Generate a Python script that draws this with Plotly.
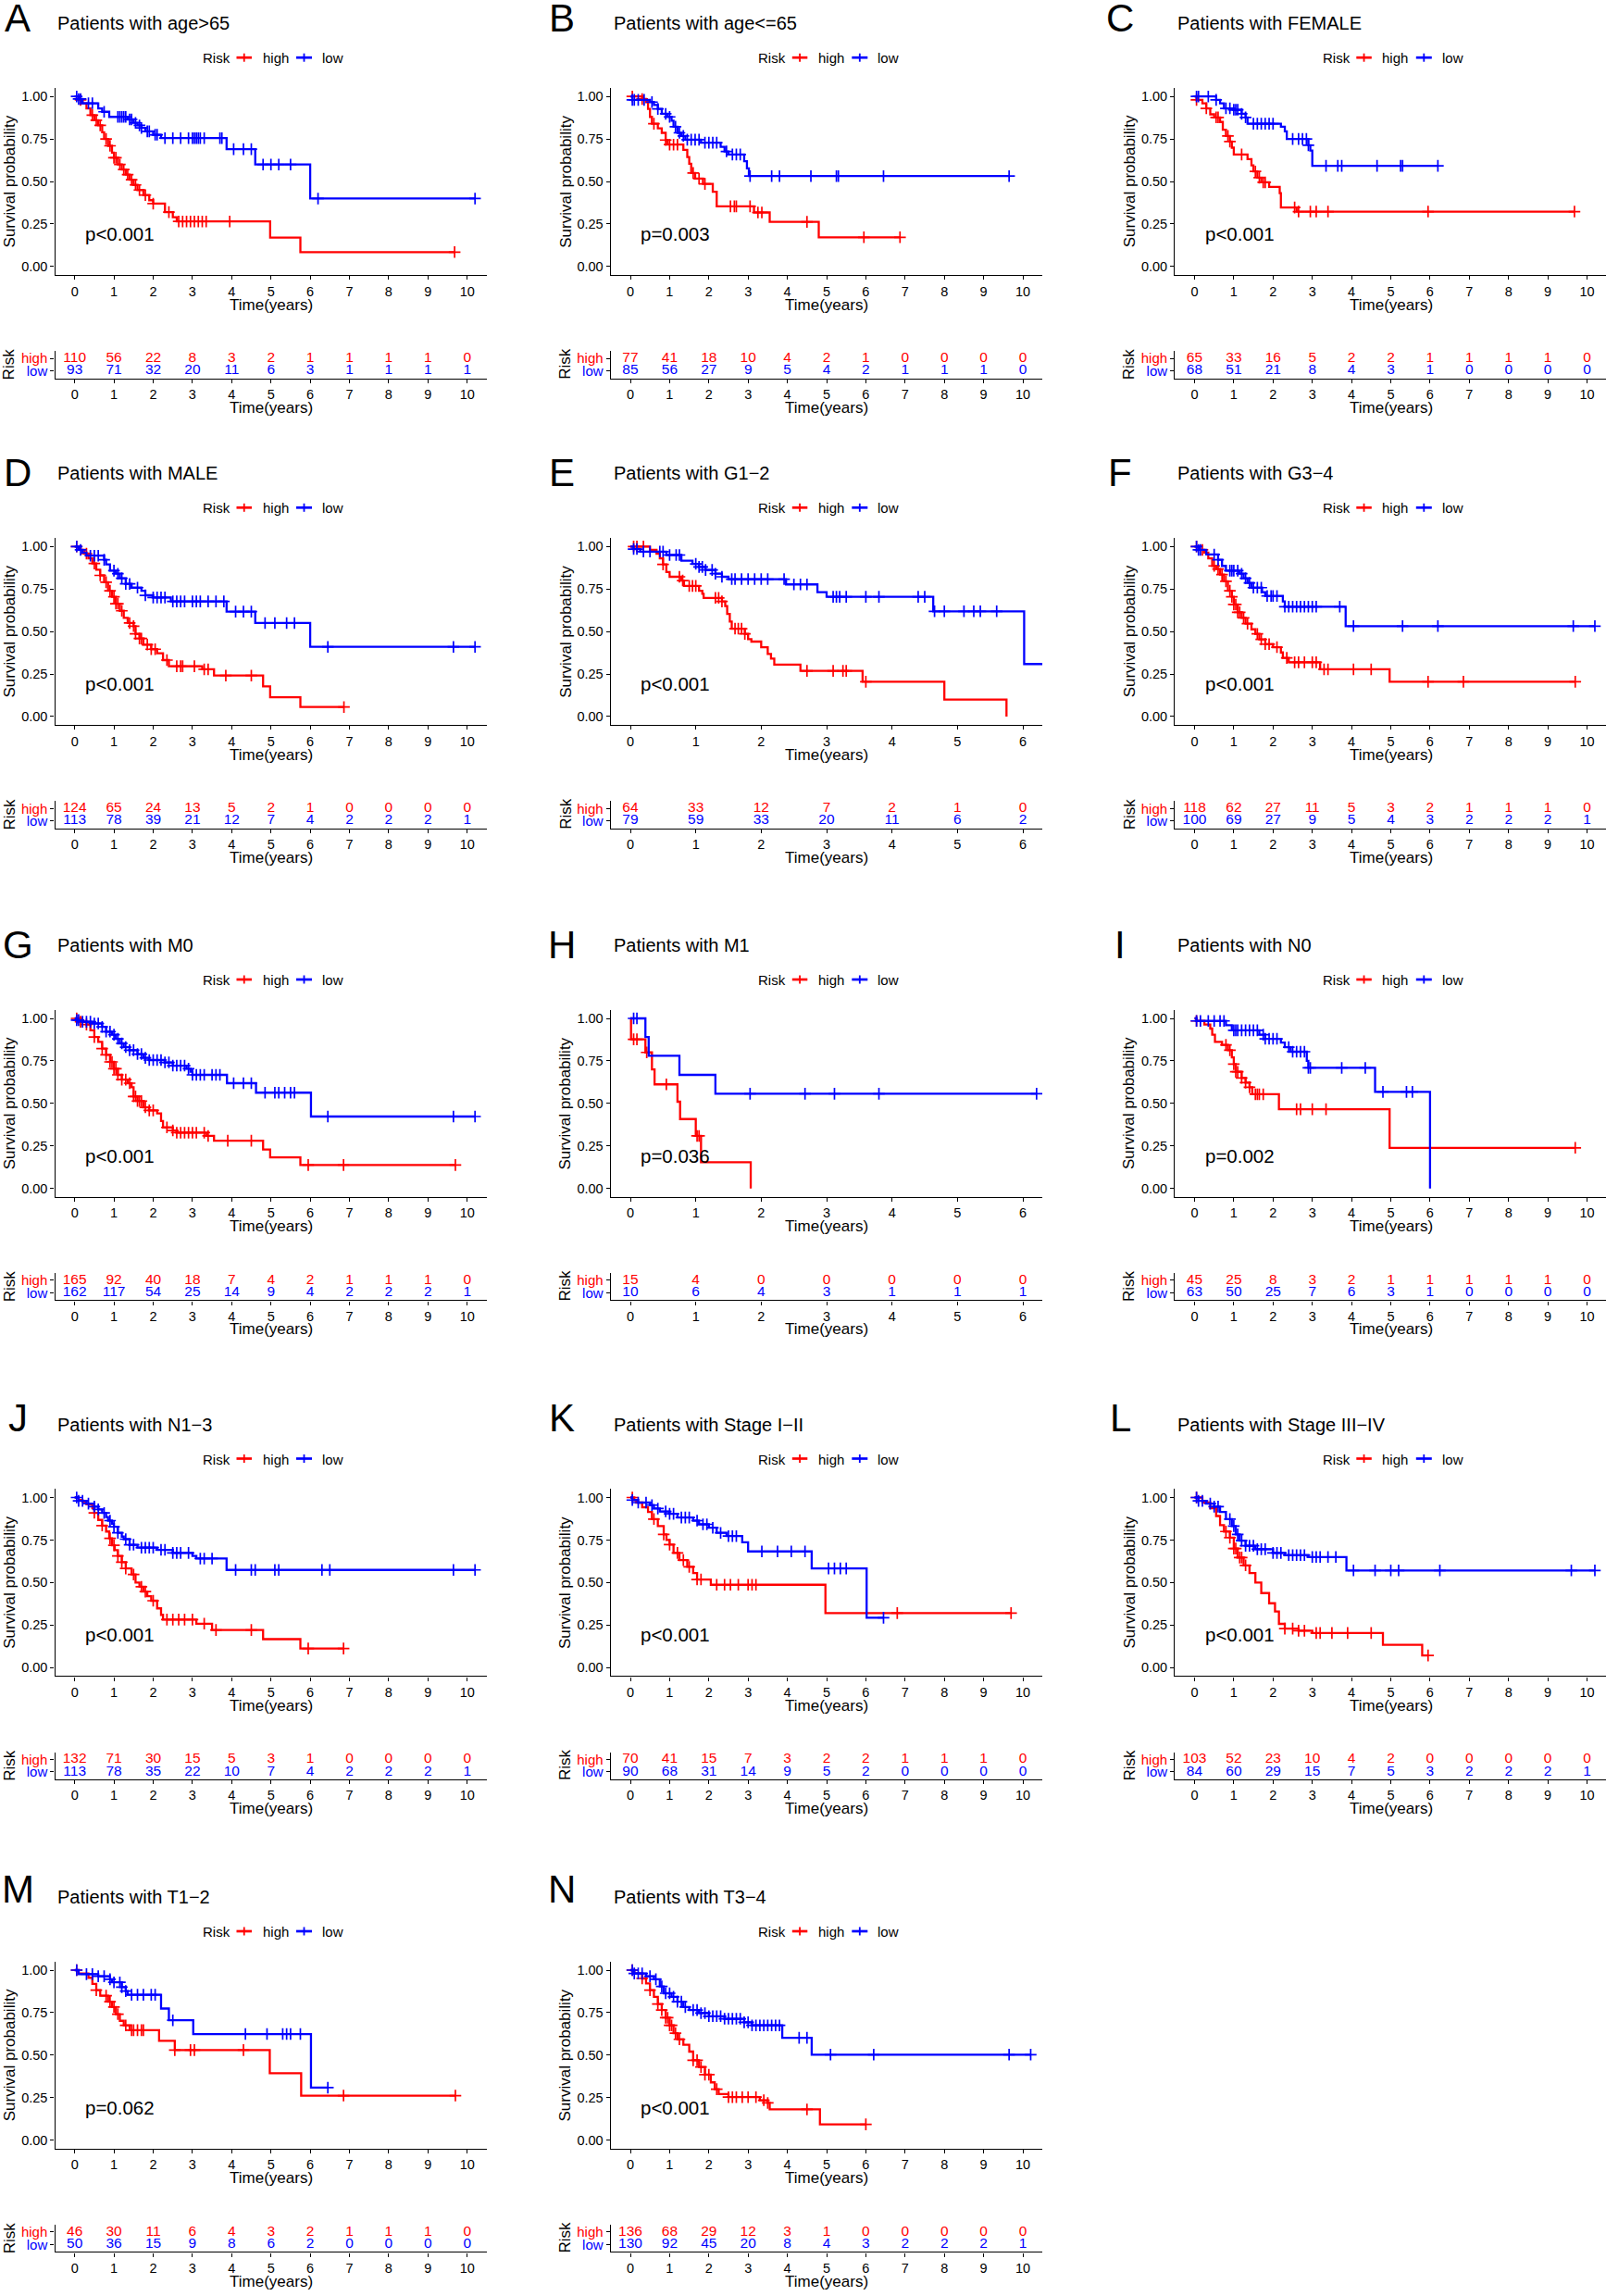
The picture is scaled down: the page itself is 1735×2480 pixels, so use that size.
import plotly.graph_objects as go

W, H = 1735, 2480
FONT = "Liberation Sans, Arial, Helvetica, sans-serif"
RED = "#FF0000"
BLUE = "#0000FF"

# ---------------- data ----------------
A_high_time = [0, 0.1, 0.2, 0.3, 0.4, 0.5, 0.6, 0.7, 0.75, 0.85, 0.95, 1.0, 1.1, 1.2, 1.3, 1.4, 1.5, 1.6, 1.75, 1.9, 2.0, 2.3, 2.5, 2.6, 4.98, 5.75, 9.68]
A_high_surv = [1, 0.98, 0.96, 0.93, 0.89, 0.86, 0.83, 0.79, 0.75, 0.71, 0.67, 0.64, 0.6, 0.57, 0.54, 0.51, 0.48, 0.45, 0.42, 0.39, 0.37, 0.32, 0.29, 0.265, 0.17, 0.085, 0.085]
A_high_cens = [0.15, 0.45, 0.55, 0.65, 0.8, 0.9, 1.0, 1.05, 1.15, 1.25, 1.35, 1.45, 1.55, 1.65, 1.8, 2.0, 2.4, 2.65, 2.75, 2.85, 2.95, 3.05, 3.15, 3.25, 3.35, 3.95, 9.68]
A_low_time = [0, 0.1, 0.2, 0.6, 0.7, 0.88, 1.35, 1.5, 1.6, 1.7, 1.8, 2.0, 2.2, 3.87, 4.6, 6.0, 10.2]
A_low_surv = [1, 0.985, 0.96, 0.93, 0.91, 0.88, 0.865, 0.845, 0.83, 0.815, 0.795, 0.775, 0.755, 0.69, 0.60, 0.40, 0.40]
A_low_cens = [0.05, 0.1, 0.15, 0.35, 0.45, 0.75, 1.1, 1.15, 1.2, 1.25, 1.3, 1.4, 1.45, 1.55, 1.65, 1.7, 1.85, 1.9, 2.05, 2.1, 2.3, 2.5, 2.7, 2.9, 3.0, 3.05, 3.1, 3.15, 3.2, 3.3, 3.7, 3.75, 4.05, 4.3, 4.5, 4.8, 5.0, 5.2, 5.5, 6.2, 10.2]
A_risk_high = [110, 56, 22, 8, 3, 2, 1, 1, 1, 1, 0]
A_risk_low = [93, 71, 32, 20, 11, 6, 3, 1, 1, 1, 1]

B_high_time = [0, 0.3, 0.4, 0.45, 0.5, 0.55, 0.7, 0.8, 0.9, 0.95, 1.35, 1.45, 1.5, 1.55, 1.65, 1.85, 2.1, 2.2, 3.15, 3.55, 4.8, 6.87]
B_high_surv = [1, 0.985, 0.967, 0.927, 0.88, 0.84, 0.813, 0.786, 0.744, 0.717, 0.686, 0.644, 0.604, 0.55, 0.517, 0.486, 0.44, 0.354, 0.318, 0.263, 0.172, 0.172]
B_high_cens = [0.05, 0.3, 0.6, 0.9, 1.0, 1.1, 1.2, 1.6, 1.75, 1.9, 2.55, 2.65, 2.7, 3.05, 3.25, 3.35, 4.5, 5.95, 6.87]
B_low_time = [0, 0.05, 0.5, 0.6, 0.7, 0.8, 0.95, 1.05, 1.1, 1.2, 1.3, 1.4, 1.8, 2.3, 2.4, 2.5, 2.9, 2.97, 3.02, 9.65]
B_low_surv = [1, 0.98, 0.967, 0.95, 0.927, 0.898, 0.88, 0.858, 0.822, 0.786, 0.768, 0.746, 0.728, 0.704, 0.677, 0.659, 0.619, 0.577, 0.532, 0.532]
B_low_cens = [0.05, 0.1, 0.2, 0.35, 0.55, 0.7, 0.9, 1.0, 1.15, 1.25, 1.35, 1.45, 1.55, 1.65, 1.75, 1.9, 2.0, 2.1, 2.2, 2.45, 2.6, 2.7, 2.8, 3.05, 3.6, 3.8, 4.6, 5.25, 5.3, 6.45, 9.65]
B_risk_high = [77, 41, 18, 10, 4, 2, 1, 0, 0, 0, 0]
B_risk_low = [85, 56, 27, 9, 5, 4, 2, 1, 1, 1, 0]

C_high_time = [0, 0.05, 0.2, 0.3, 0.4, 0.5, 0.65, 0.72, 0.8, 0.9, 0.95, 1.0, 1.35, 1.45, 1.5, 1.6, 1.7, 1.9, 2.17, 2.2, 2.6, 9.68]
C_high_surv = [1, 0.98, 0.96, 0.93, 0.895, 0.877, 0.85, 0.804, 0.768, 0.735, 0.699, 0.659, 0.632, 0.595, 0.559, 0.523, 0.495, 0.468, 0.432, 0.347, 0.323, 0.323]
C_high_cens = [0.05, 0.3, 0.55, 0.6, 0.85, 0.9, 1.2, 1.55, 1.65, 1.75, 1.8, 2.55, 2.65, 2.95, 3.1, 3.4, 5.95, 9.68]
C_low_time = [0, 0.55, 0.65, 0.75, 1.0, 1.2, 1.3, 1.35, 2.2, 2.3, 2.35, 2.9, 2.95, 3.0, 6.2]
C_low_surv = [1, 0.98, 0.96, 0.93, 0.922, 0.898, 0.877, 0.84, 0.822, 0.795, 0.75, 0.713, 0.682, 0.592, 0.592]
C_low_cens = [0.05, 0.1, 0.35, 0.55, 0.8, 0.9, 1.0, 1.05, 1.1, 1.2, 1.3, 1.5, 1.6, 1.7, 1.8, 1.9, 2.0, 2.5, 2.65, 2.75, 2.85, 2.9, 3.35, 3.65, 3.75, 4.65, 5.25, 5.3, 6.2]
C_risk_high = [65, 33, 16, 5, 2, 2, 1, 1, 1, 1, 0]
C_risk_low = [68, 51, 21, 8, 4, 3, 1, 0, 0, 0, 0]

D_high_time = [0, 0.15, 0.25, 0.35, 0.45, 0.55, 0.65, 0.75, 0.85, 0.95, 1.05, 1.15, 1.25, 1.35, 1.5, 1.55, 1.65, 1.75, 1.95, 2.1, 2.25, 2.4, 3.25, 3.55, 4.8, 4.98, 5.75, 6.86]
D_high_surv = [1, 0.98, 0.958, 0.93, 0.90, 0.864, 0.83, 0.79, 0.74, 0.704, 0.664, 0.622, 0.58, 0.55, 0.532, 0.486, 0.459, 0.423, 0.396, 0.372, 0.332, 0.296, 0.278, 0.241, 0.178, 0.114, 0.056, 0.056]
D_high_cens = [0.05, 0.3, 0.5, 0.65, 0.8, 0.9, 1.0, 1.05, 1.1, 1.2, 1.4, 1.5, 1.55, 1.65, 1.7, 1.85, 1.95, 2.05, 2.35, 2.6, 2.7, 2.75, 3.05, 3.3, 3.4, 3.85, 4.5, 6.86]
D_low_time = [0, 0.1, 0.2, 0.3, 0.75, 0.8, 0.9, 1.05, 1.15, 1.3, 1.45, 1.7, 1.8, 2.0, 2.45, 3.87, 4.6, 6.0, 10.2]
D_low_surv = [1, 0.98, 0.964, 0.946, 0.922, 0.895, 0.858, 0.84, 0.813, 0.78, 0.758, 0.74, 0.713, 0.70, 0.677, 0.617, 0.55, 0.41, 0.41]
D_low_cens = [0.05, 0.15, 0.4, 0.5, 0.6, 0.75, 1.0, 1.1, 1.2, 1.3, 1.4, 1.6, 1.8, 2.0, 2.1, 2.2, 2.3, 2.5, 2.6, 2.7, 2.8, 3.0, 3.1, 3.2, 3.4, 3.6, 3.8, 4.1, 4.3, 4.5, 4.85, 5.1, 5.4, 5.6, 6.45, 9.65, 10.2]
D_risk_high = [124, 65, 24, 13, 5, 2, 1, 0, 0, 0, 0]
D_risk_low = [113, 78, 39, 21, 12, 7, 4, 2, 2, 2, 1]

E_high_time = [0, 0.3, 0.4, 0.45, 0.5, 0.55, 0.6, 0.78, 0.82, 1.05, 1.1, 1.12, 1.4, 1.45, 1.48, 1.52, 1.55, 1.75, 1.8, 1.85, 2.0, 2.1, 2.15, 2.2, 2.6, 3.55, 4.8, 5.75]
E_high_surv = [1, 0.98, 0.958, 0.93, 0.895, 0.85, 0.822, 0.80, 0.768, 0.74, 0.722, 0.698, 0.677, 0.65, 0.604, 0.559, 0.517, 0.486, 0.455, 0.441, 0.408, 0.368, 0.341, 0.305, 0.269, 0.205, 0.10, 0.0]
E_high_cens = [0.05, 0.1, 0.2, 0.5, 0.75, 0.8, 0.9, 0.95, 1.0, 1.3, 1.35, 1.4, 1.6, 1.65, 1.7, 1.75, 2.7, 3.1, 3.25, 3.3, 3.6]
E_low_time = [0, 0.05, 0.15, 0.55, 0.78, 0.95, 1.05, 1.15, 1.3, 1.4, 1.5, 2.38, 2.86, 3.0, 4.63, 6.02, 6.3]
E_low_surv = [1, 0.985, 0.97, 0.95, 0.917, 0.898, 0.88, 0.862, 0.84, 0.822, 0.808, 0.777, 0.731, 0.704, 0.619, 0.309, 0.309]
E_low_cens = [0.05, 0.1, 0.2, 0.3, 0.45, 0.5, 0.6, 0.7, 0.75, 1.0, 1.05, 1.1, 1.15, 1.25, 1.3, 1.4, 1.55, 1.6, 1.7, 1.8, 1.9, 2.0, 2.1, 2.35, 2.5, 2.6, 2.7, 3.1, 3.15, 3.2, 3.3, 3.6, 3.8, 4.4, 4.5, 4.65, 4.8, 5.1, 5.25, 5.35, 5.6]
E_risk_high = [64, 33, 12, 7, 2, 1, 0]
E_risk_low = [79, 59, 33, 20, 11, 6, 2]

F_high_time = [0, 0.1, 0.25, 0.35, 0.45, 0.55, 0.65, 0.75, 0.85, 0.95, 1.0, 1.1, 1.2, 1.3, 1.45, 1.55, 1.65, 1.8, 2.0, 2.2, 2.25, 2.4, 3.2, 4.97, 9.7]
F_high_surv = [1, 0.98, 0.964, 0.93, 0.886, 0.868, 0.835, 0.795, 0.74, 0.704, 0.659, 0.613, 0.58, 0.546, 0.513, 0.486, 0.454, 0.426, 0.408, 0.377, 0.345, 0.319, 0.278, 0.205, 0.205]
F_high_cens = [0.05, 0.2, 0.5, 0.6, 0.7, 0.8, 0.9, 0.95, 1.0, 1.05, 1.1, 1.15, 1.25, 1.35, 1.6, 1.7, 1.8, 1.9, 2.1, 2.35, 2.55, 2.65, 2.8, 3.0, 3.1, 3.3, 3.4, 4.05, 4.5, 5.95, 6.85, 9.7]
F_low_time = [0, 0.1, 0.3, 0.6, 0.7, 0.8, 1.15, 1.25, 1.35, 1.45, 1.72, 1.8, 2.25, 2.3, 3.85, 10.2]
F_low_surv = [1, 0.98, 0.953, 0.922, 0.886, 0.858, 0.84, 0.813, 0.786, 0.758, 0.731, 0.709, 0.677, 0.646, 0.532, 0.532]
F_low_cens = [0.05, 0.1, 0.15, 0.5, 0.6, 0.9, 0.95, 1.0, 1.1, 1.2, 1.3, 1.4, 1.5, 1.6, 1.7, 1.85, 1.95, 2.0, 2.1, 2.3, 2.4, 2.5, 2.6, 2.7, 2.8, 2.9, 3.0, 3.1, 3.7, 4.05, 5.3, 6.2, 9.65, 10.2]
F_risk_high = [118, 62, 27, 11, 5, 3, 2, 1, 1, 1, 0]
F_risk_low = [100, 69, 27, 9, 5, 4, 3, 2, 2, 2, 1]

G_high_time = [0, 0.1, 0.3, 0.4, 0.5, 0.6, 0.7, 0.8, 0.9, 1.0, 1.1, 1.2, 1.35, 1.45, 1.5, 1.6, 1.75, 1.9, 2.1, 2.2, 2.25, 2.5, 2.6, 3.35, 3.55, 4.8, 4.98, 5.75, 9.7]
G_high_surv = [1, 0.98, 0.964, 0.93, 0.89, 0.862, 0.822, 0.786, 0.744, 0.704, 0.668, 0.64, 0.619, 0.595, 0.541, 0.514, 0.477, 0.459, 0.441, 0.396, 0.359, 0.341, 0.328, 0.309, 0.281, 0.229, 0.183, 0.138, 0.138]
G_high_cens = [0.05, 0.15, 0.3, 0.5, 0.7, 0.8, 0.9, 0.95, 1.0, 1.05, 1.1, 1.2, 1.3, 1.4, 1.5, 1.55, 1.6, 1.65, 1.7, 1.8, 1.9, 2.0, 2.35, 2.5, 2.6, 2.7, 2.8, 2.9, 3.0, 3.1, 3.3, 3.4, 3.9, 4.5, 5.95, 6.85, 9.7]
G_low_time = [0, 0.05, 0.2, 0.45, 0.7, 0.8, 0.95, 1.05, 1.15, 1.25, 1.4, 1.6, 1.75, 1.9, 2.3, 2.5, 2.85, 2.95, 3.0, 3.88, 4.62, 6.02, 10.2]
G_low_surv = [1, 0.99, 0.98, 0.97, 0.95, 0.922, 0.904, 0.88, 0.853, 0.831, 0.813, 0.79, 0.768, 0.755, 0.741, 0.722, 0.704, 0.686, 0.668, 0.619, 0.563, 0.423, 0.423]
G_low_cens = [0.05, 0.1, 0.2, 0.3, 0.4, 0.5, 0.6, 0.7, 0.8, 0.9, 1.0, 1.1, 1.2, 1.3, 1.4, 1.5, 1.6, 1.7, 1.8, 1.9, 2.0, 2.1, 2.2, 2.3, 2.4, 2.5, 2.6, 2.7, 2.8, 2.9, 3.0, 3.1, 3.2, 3.3, 3.5, 3.6, 3.7, 4.05, 4.3, 4.5, 4.85, 5.1, 5.2, 5.35, 5.5, 5.6, 6.45, 9.65, 10.2]
G_risk_high = [165, 92, 40, 18, 7, 4, 2, 1, 1, 1, 0]
G_risk_low = [162, 117, 54, 25, 14, 9, 4, 2, 2, 2, 1]

H_high_time = [0, 0.01, 0.23, 0.33, 0.37, 0.72, 0.76, 1.0, 1.08, 1.84]
H_high_surv = [1, 0.877, 0.80, 0.70, 0.612, 0.51, 0.408, 0.309, 0.154, 0.0]
H_high_cens = [0.05, 0.1, 0.25, 0.55, 1.02, 1.05]
H_low_time = [0, 0.23, 0.28, 0.75, 1.3, 6.21]
H_low_surv = [1, 0.89, 0.78, 0.668, 0.557, 0.557]
H_low_cens = [0.05, 0.1, 1.83, 2.67, 3.12, 3.8, 6.21]
H_risk_high = [15, 4, 0, 0, 0, 0, 0]
H_risk_low = [10, 6, 4, 3, 1, 1, 1]

I_high_time = [0, 0.05, 0.25, 0.4, 0.45, 0.52, 0.7, 0.85, 0.95, 1.0, 1.05, 1.2, 1.3, 1.4, 1.47, 2.15, 4.97, 9.7]
I_high_surv = [1, 0.985, 0.964, 0.94, 0.904, 0.862, 0.844, 0.813, 0.771, 0.731, 0.686, 0.65, 0.622, 0.595, 0.554, 0.466, 0.239, 0.239]
I_high_cens = [0.05, 0.8, 0.9, 1.0, 1.05, 1.1, 1.2, 1.3, 1.4, 1.55, 1.6, 1.65, 1.75, 2.6, 2.7, 3.0, 3.35, 9.7]
I_low_time = [0, 0.05, 0.8, 0.95, 1.65, 1.8, 2.2, 2.3, 2.45, 2.86, 2.9, 4.6, 6.0]
I_low_surv = [1, 0.985, 0.96, 0.93, 0.904, 0.88, 0.858, 0.831, 0.804, 0.75, 0.709, 0.568, 0.0]
I_low_cens = [0.05, 0.15, 0.35, 0.5, 0.65, 0.75, 1.0, 1.05, 1.1, 1.2, 1.3, 1.4, 1.5, 1.6, 1.75, 1.8, 1.9, 2.0, 2.1, 2.4, 2.5, 2.6, 2.7, 2.8, 2.9, 2.95, 3.75, 4.35, 4.8, 5.4, 5.55]
I_risk_high = [45, 25, 8, 3, 2, 1, 1, 1, 1, 1, 0]
I_risk_low = [63, 50, 25, 7, 6, 3, 1, 0, 0, 0, 0]

J_high_time = [0, 0.1, 0.2, 0.3, 0.45, 0.5, 0.6, 0.7, 0.8, 0.88, 0.95, 1.02, 1.1, 1.2, 1.3, 1.45, 1.55, 1.65, 1.75, 1.85, 1.95, 2.1, 2.2, 2.25, 3.1, 3.5, 4.8, 5.75, 6.85]
J_high_surv = [1, 0.985, 0.973, 0.96, 0.937, 0.91, 0.868, 0.835, 0.80, 0.76, 0.719, 0.69, 0.656, 0.62, 0.583, 0.547, 0.50, 0.475, 0.447, 0.42, 0.393, 0.348, 0.31, 0.282, 0.258, 0.221, 0.167, 0.112, 0.112]
J_high_cens = [0.5, 0.7, 0.9, 1.0, 1.1, 1.2, 1.3, 1.5, 1.7, 1.8, 2.0, 2.35, 2.5, 2.65, 2.8, 3.0, 3.3, 3.6, 4.5, 5.95, 6.85]
J_low_time = [0, 0.1, 0.3, 0.5, 0.6, 0.7, 0.8, 0.85, 0.95, 1.0, 1.1, 1.2, 1.25, 1.4, 1.6, 2.1, 2.5, 3.0, 3.1, 3.87, 10.2]
J_low_surv = [1, 0.98, 0.964, 0.946, 0.93, 0.909, 0.885, 0.864, 0.845, 0.828, 0.792, 0.77, 0.755, 0.722, 0.705, 0.692, 0.674, 0.656, 0.641, 0.574, 0.574]
J_low_cens = [0.05, 0.1, 0.2, 0.35, 0.5, 0.6, 0.75, 0.9, 1.0, 1.1, 1.3, 1.4, 1.5, 1.7, 1.8, 1.9, 2.0, 2.2, 2.3, 2.5, 2.6, 2.7, 2.9, 3.2, 3.3, 3.5, 4.1, 4.5, 4.6, 5.1, 5.2, 6.3, 6.5, 9.65, 10.2]
J_risk_high = [132, 71, 30, 15, 5, 3, 1, 0, 0, 0, 0]
J_risk_low = [113, 78, 35, 22, 10, 7, 4, 2, 2, 2, 1]

K_high_time = [0, 0.1, 0.15, 0.3, 0.45, 0.55, 0.7, 0.85, 0.92, 1.0, 1.1, 1.25, 1.45, 1.6, 1.7, 2.05, 4.97, 9.7]
K_high_surv = [1, 0.985, 0.97, 0.942, 0.915, 0.873, 0.832, 0.783, 0.75, 0.723, 0.674, 0.632, 0.592, 0.556, 0.518, 0.487, 0.32, 0.32]
K_high_cens = [0.05, 0.6, 0.85, 1.0, 1.2, 1.35, 1.5, 1.7, 1.8, 2.2, 2.4, 2.55, 2.75, 3.0, 3.1, 3.2, 6.8, 9.7]
K_low_time = [0, 0.05, 0.2, 0.5, 0.6, 0.75, 1.0, 1.2, 1.6, 1.75, 2.0, 2.2, 2.45, 2.85, 3.0, 4.62, 6.02, 6.45]
K_low_surv = [1, 0.985, 0.97, 0.955, 0.935, 0.918, 0.904, 0.882, 0.864, 0.842, 0.822, 0.792, 0.773, 0.737, 0.683, 0.583, 0.293, 0.293]
K_low_cens = [0.05, 0.2, 0.4, 0.55, 0.7, 0.9, 1.0, 1.1, 1.3, 1.4, 1.5, 1.7, 1.85, 1.95, 2.1, 2.3, 2.5, 2.6, 2.7, 3.35, 3.75, 4.1, 4.45, 5.05, 5.2, 5.35, 5.5, 6.45]
K_risk_high = [70, 41, 15, 7, 3, 2, 2, 1, 1, 1, 0]
K_risk_low = [90, 68, 31, 14, 9, 5, 2, 0, 0, 0, 0]

L_high_time = [0, 0.2, 0.4, 0.55, 0.65, 0.75, 0.9, 1.0, 1.1, 1.25, 1.4, 1.55, 1.7, 1.9, 2.05, 2.15, 2.3, 2.65, 3.0, 4.8, 5.8, 5.95]
L_high_surv = [1, 0.97, 0.937, 0.891, 0.837, 0.80, 0.764, 0.70, 0.647, 0.601, 0.556, 0.50, 0.438, 0.378, 0.33, 0.257, 0.229, 0.217, 0.203, 0.134, 0.071, 0.071]
L_high_cens = [0.05, 0.8, 0.9, 1.0, 1.05, 1.15, 1.2, 1.3, 2.3, 2.5, 2.65, 2.8, 3.1, 3.2, 3.5, 3.9, 4.5, 5.95]
L_low_time = [0, 0.1, 0.3, 0.5, 0.65, 0.8, 0.95, 1.05, 1.15, 1.3, 1.55, 2.0, 2.3, 2.9, 3.87, 10.2]
L_low_surv = [1, 0.98, 0.964, 0.946, 0.915, 0.873, 0.832, 0.783, 0.746, 0.716, 0.696, 0.674, 0.661, 0.65, 0.571, 0.571]
L_low_cens = [0.05, 0.1, 0.2, 0.4, 0.5, 0.6, 0.9, 1.0, 1.1, 1.2, 1.3, 1.4, 1.5, 1.6, 1.7, 1.8, 2.0, 2.1, 2.2, 2.4, 2.5, 2.6, 2.7, 2.8, 3.0, 3.1, 3.2, 3.4, 3.6, 4.05, 4.6, 5.0, 5.2, 6.25, 9.6, 10.2]
L_risk_high = [103, 52, 23, 10, 4, 2, 0, 0, 0, 0, 0]
L_risk_low = [84, 60, 29, 15, 7, 5, 3, 2, 2, 2, 1]

M_high_time = [0, 0.1, 0.35, 0.45, 0.55, 0.65, 0.85, 0.95, 1.05, 1.15, 1.25, 1.4, 2.15, 2.55, 4.97, 5.77, 9.7]
M_high_surv = [1, 0.98, 0.955, 0.919, 0.882, 0.85, 0.814, 0.783, 0.741, 0.702, 0.675, 0.647, 0.584, 0.53, 0.394, 0.262, 0.262]
M_high_cens = [0.05, 0.55, 0.8, 0.9, 1.0, 1.1, 1.3, 1.45, 1.5, 1.6, 1.7, 1.75, 2.55, 2.95, 3.05, 4.3, 6.85, 9.7]
M_low_time = [0, 0.1, 0.6, 0.9, 0.95, 1.2, 1.3, 1.35, 2.2, 2.4, 3.02, 6.02, 6.45]
M_low_surv = [1, 0.976, 0.964, 0.946, 0.928, 0.90, 0.877, 0.855, 0.774, 0.705, 0.624, 0.309, 0.309]
M_low_cens = [0.05, 0.3, 0.45, 0.6, 0.75, 0.9, 1.0, 1.15, 1.2, 1.3, 1.45, 1.6, 1.75, 1.95, 2.05, 2.5, 4.35, 4.9, 5.3, 5.4, 5.5, 5.75, 6.45]
M_risk_high = [46, 30, 11, 6, 4, 3, 2, 1, 1, 1, 0]
M_risk_low = [50, 36, 15, 9, 8, 6, 2, 0, 0, 0, 0]

N_high_time = [0, 0.1, 0.3, 0.4, 0.5, 0.6, 0.7, 0.8, 0.9, 1.0, 1.1, 1.2, 1.35, 1.5, 1.6, 1.75, 1.9, 2.05, 2.15, 2.25, 2.5, 3.3, 3.5, 3.55, 4.83, 6.0]
N_high_surv = [1, 0.98, 0.951, 0.922, 0.882, 0.843, 0.801, 0.765, 0.72, 0.675, 0.629, 0.593, 0.561, 0.521, 0.47, 0.43, 0.385, 0.34, 0.30, 0.271, 0.253, 0.235, 0.219, 0.181, 0.093, 0.093]
N_high_cens = [0.05, 0.3, 0.5, 0.7, 0.8, 0.9, 0.95, 1.0, 1.05, 1.15, 1.25, 1.6, 1.7, 1.8, 1.9, 2.0, 2.2, 2.5, 2.6, 2.7, 2.85, 3.0, 3.2, 3.4, 3.5, 4.5, 6.0]
N_low_time = [0, 0.1, 0.4, 0.6, 0.75, 0.85, 1.05, 1.2, 1.35, 1.5, 1.75, 2.0, 2.4, 2.9, 3.1, 3.87, 4.62, 10.2]
N_low_surv = [1, 0.98, 0.964, 0.946, 0.904, 0.864, 0.843, 0.814, 0.783, 0.765, 0.747, 0.729, 0.714, 0.693, 0.675, 0.602, 0.503, 0.503]
N_low_cens = [0.05, 0.1, 0.2, 0.3, 0.5, 0.65, 0.8, 0.9, 1.0, 1.1, 1.2, 1.3, 1.4, 1.6, 1.7, 1.8, 1.9, 2.0, 2.1, 2.2, 2.3, 2.4, 2.5, 2.6, 2.7, 2.8, 2.9, 3.0, 3.1, 3.2, 3.3, 3.4, 3.5, 3.6, 3.7, 3.8, 4.3, 4.5, 5.1, 6.2, 9.65, 10.2]
N_risk_high = [136, 68, 29, 12, 3, 1, 0, 0, 0, 0, 0]
N_risk_low = [130, 92, 45, 20, 8, 4, 3, 2, 2, 2, 1]

letters = ["A", "B", "C", "D", "E", "F", "G", "H", "I", "J", "K", "L", "M", "N"]
titles = ["Patients with age>65", "Patients with age<=65", "Patients with FEMALE",
          "Patients with MALE", "Patients with G1\u22122", "Patients with G3\u22124",
          "Patients with M0", "Patients with M1", "Patients with N0",
          "Patients with N1\u22123", "Patients with Stage I\u2212II", "Patients with Stage III\u2212IV",
          "Patients with T1\u22122", "Patients with T3\u22124"]
pvalues = ["p<0.001", "p=0.003", "p<0.001", "p<0.001", "p<0.001", "p<0.001",
           "p<0.001", "p=0.036", "p=0.002", "p<0.001", "p<0.001", "p<0.001",
           "p=0.062", "p<0.001"]
xmax_years = [10, 10, 10, 10, 6, 10, 10, 6, 10, 10, 10, 10, 10, 10]

G_ = globals()
PANELS = []
for i, L in enumerate(letters):
    PANELS.append(dict(
        letter=L, title=titles[i], p=pvalues[i], xmax=xmax_years[i],
        hi=(G_[L + "_high_time"], G_[L + "_high_surv"], G_[L + "_high_cens"]),
        lo=(G_[L + "_low_time"], G_[L + "_low_surv"], G_[L + "_low_cens"]),
        rhi=G_[L + "_risk_high"], rlo=G_[L + "_risk_low"]))

# ---------------- layout geometry (pixels) ----------------
COL_X0 = [80.7, 681.0, 1290.5]
ROW_Y1 = [104.2, 590.3, 1100.0, 1617.5, 2128.0]
LETTER_X = [19, 607, 1210]
LETTER_Y = [19, 510, 1021, 1531, 2040]
SPAN = 424.0
YSPAN = 183.7


def fx(p):
    return p / W


def fy(p):
    return 1 - p / H


def step_at(ts, ss, c):
    v = ss[0]
    for t, s in zip(ts, ss):
        if t <= c + 1e-9:
            v = s
        else:
            break
    return v


fig = go.Figure()
layout = dict(width=W, height=H, autosize=False, margin=dict(l=0, r=0, t=0, b=0),
              paper_bgcolor="white", plot_bgcolor="white", showlegend=False,
              font=dict(family=FONT, color="black"))
annotations = []
shapes = []

for i, P in enumerate(PANELS):
    r, c = divmod(i, 3)
    x0 = COL_X0[c]
    R = ROW_Y1[r]
    xmax = P["xmax"]
    u = SPAN / xmax
    lpx = x0 - 0.05 * SPAN
    rpx = min(x0 + 1.05 * SPAN, W)
    xr = [(lpx - x0) / u, (rpx - x0) / u]
    xdom = [fx(lpx), fx(rpx)]
    mi = 2 * i + 1
    ti = 2 * i + 2
    xm, ym = f"x{mi}", f"y{mi}"
    xt, yt = f"x{ti}", f"y{ti}"
    ticks = list(range(0, xmax + 1))
    axcommon = dict(showgrid=False, zeroline=False, showline=True, linecolor="black", linewidth=1.4,
                    ticks="outside", ticklen=4, tickwidth=1.2, tickcolor="black",
                    tickfont=dict(family=FONT, size=14.5, color="black"))
    layout[f"xaxis{mi}"] = dict(domain=xdom, range=xr, anchor=ym, tickvals=ticks, **axcommon)
    layout[f"yaxis{mi}"] = dict(domain=[fy(R + 1.05 * YSPAN), fy(R - 0.05 * YSPAN)], range=[-0.05, 1.05],
                                anchor=xm, tickvals=[0, 0.25, 0.5, 0.75, 1.0],
                                ticktext=["0.00", "0.25", "0.50", "0.75", "1.00"], **axcommon)
    layout[f"xaxis{ti}"] = dict(domain=xdom, range=xr, anchor=yt, tickvals=ticks, **axcommon)
    ax_t = dict(axcommon)
    ax_t["tickfont"] = dict(family=FONT, size=15, color="black")
    layout[f"yaxis{ti}"] = dict(domain=[fy(R + 304.3), fy(R + 275)], range=[0.4, 2.6], anchor=xt,
                                tickvals=[1, 2],
                                ticktext=[f'<span style="color:{BLUE}">low</span>',
                                          f'<span style="color:{RED}">high</span>'], **ax_t)

    # curves
    for (ts, ss, cs), col in ((P["hi"], RED), (P["lo"], BLUE)):
        fig.add_trace(go.Scatter(x=ts, y=ss, mode="lines", line=dict(color=col, width=2.3, shape="hv"),
                                 xaxis=xm, yaxis=ym, hoverinfo="skip"))
        fig.add_trace(go.Scatter(x=cs, y=[step_at(ts, ss, cc) for cc in cs], mode="markers",
                                 marker=dict(symbol="cross-thin", size=9, color=col,
                                             line=dict(color=col, width=1.7)),
                                 xaxis=xm, yaxis=ym, hoverinfo="skip"))
    # risk table
    fig.add_trace(go.Scatter(x=ticks, y=[2] * len(ticks), text=[str(v) for v in P["rhi"]], mode="text",
                             textfont=dict(family=FONT, size=15.5, color=RED), cliponaxis=False,
                             xaxis=xt, yaxis=yt, hoverinfo="skip"))
    fig.add_trace(go.Scatter(x=ticks, y=[1] * len(ticks), text=[str(v) for v in P["rlo"]], mode="text",
                             textfont=dict(family=FONT, size=15.5, color=BLUE), cliponaxis=False,
                             xaxis=xt, yaxis=yt, hoverinfo="skip"))

    def ann(text, xp, yp, size, xanchor="left", angle=0, color="black"):
        annotations.append(dict(text=text, x=fx(xp), y=fy(yp), xref="paper", yref="paper",
                                xanchor=xanchor, yanchor="middle", showarrow=False, textangle=angle,
                                font=dict(family=FONT, size=size, color=color)))

    ann(P["letter"], LETTER_X[c], LETTER_Y[r], 42, xanchor="center")
    ann(P["title"], x0 - 20.5, R - 79, 20)
    # legend
    ann("Risk", x0 + 136.3, R - 41.5, 15)
    ann("high", x0 + 200.8, R - 41.5, 15)
    ann("low", x0 + 265.3, R - 41.5, 15)
    for (a, b), col in (((174.8, 191.3), RED), ((239.3, 256.3), BLUE)):
        shapes.append(dict(type="line", xref="paper", yref="paper", x0=fx(x0 + a), x1=fx(x0 + b),
                           y0=fy(R - 42), y1=fy(R - 42), line=dict(color=col, width=2.7)))
        mid = x0 + (a + b) / 2
        shapes.append(dict(type="line", xref="paper", yref="paper", x0=fx(mid), x1=fx(mid),
                           y0=fy(R - 46.5), y1=fy(R - 37.5), line=dict(color=col, width=1.8)))
    # axis titles
    ann("Survival probability", x0 - 70.3, R + 91.85, 17, xanchor="center", angle=-90)
    ann("Time(years)", x0 + 212, R + 224.8, 17, xanchor="center")
    ann("Risk", x0 - 70.3, R + 288.8, 17, xanchor="center", angle=-90)
    ann("Time(years)", x0 + 212, R + 336, 17, xanchor="center")
    # p-value
    ann(P["p"], x0 + 9.3, R + 148.3, 20.5)

layout["annotations"] = annotations
layout["shapes"] = shapes
fig.update_layout(**layout)
fig.write_html("out.html", config={"displayModeBar": False},
               post_script="document.body.style.margin='0';document.body.style.padding='0';")
